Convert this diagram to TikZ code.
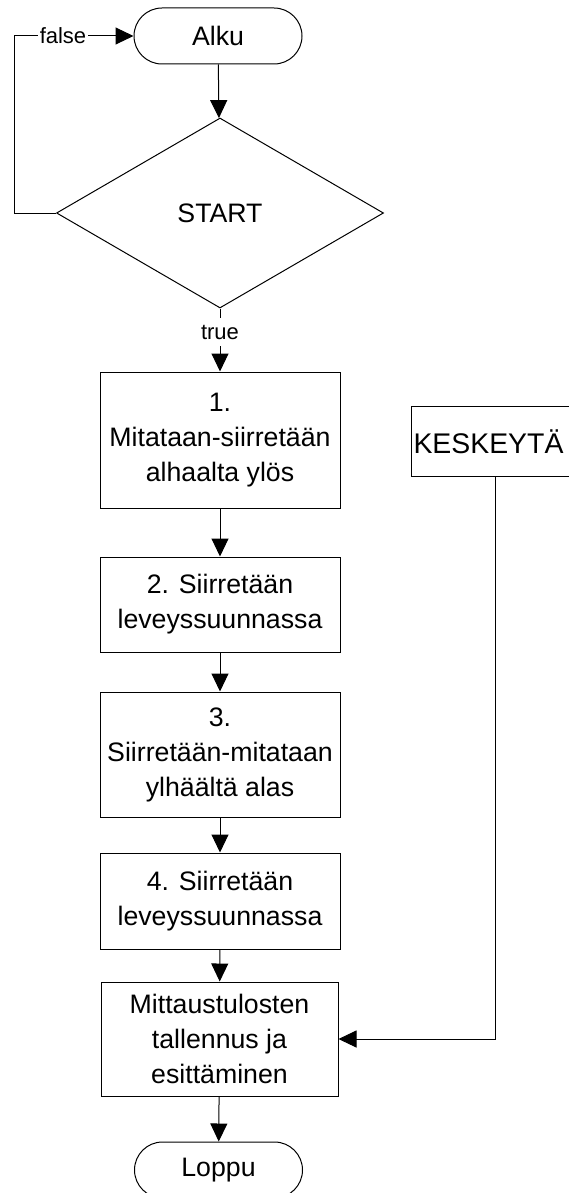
\documentclass[tikz,border=0pt]{standalone}
\usepackage{fontspec}
\setmainfont{Liberation Sans}
\usetikzlibrary{shapes.geometric,arrows.meta}
\tikzset{
  base/.style={draw=black, line width=1pt, font=\fontsize{26.7pt}{35pt}\selectfont, align=center, inner sep=0pt},
  terminal/.style={base, rectangle, rounded corners=28pt, minimum width=168pt, minimum height=56pt},
  procbox/.style={base, rectangle, minimum width=240pt},
  decision/.style={base, diamond, minimum width=327pt, minimum height=190pt},
  arr/.style={draw=black, line width=1pt, -{Triangle[length=18pt,width=17pt]}},
  lbl/.style={font=\fontsize{22pt}{26pt}\selectfont, fill=white, inner xsep=2pt, inner ysep=7pt},
  edgeline/.style={draw=black, line width=1pt}
}
\begin{document}
\begin{tikzpicture}[x=1pt,y=-1pt]
\useasboundingbox (0,0) rectangle (568,1193);
\fill[white] (0,0) rectangle (568,1193);
\node[terminal] (alku) at (218,36) {Alku};
\node[decision] (dia) at (220,213) {START};
\node[procbox, minimum height=136pt] (b1) at (220,440) {1.\\Mitataan-siirretään\\alhaalta ylös};
\node[procbox, minimum height=95pt] (b2) at (220,604.5) {2. Siirretään\\leveyssuunnassa};
\node[procbox, minimum height=125pt] (b3) at (220,754.5) {3.\\Siirretään-mitataan\\ylhäältä alas};
\node[procbox, minimum height=96pt] (b4) at (220,901) {4. Siirretään\\leveyssuunnassa};
\node[procbox, minimum width=237pt, minimum height=114pt] (b5) at (219.5,1039) {Mittaustulosten\\tallennus ja\\esittäminen};
\node[terminal] (loppu) at (218.5,1170) {Loppu};
\node[base, draw=none, rectangle, anchor=west, minimum width=157pt, minimum height=69pt, inner xsep=2pt, font=\fontsize{28.4pt}{35pt}\selectfont] (kes) at (411,441.5) {\makebox[153pt][l]{KESKEYTÄ}};
\draw[edgeline] (kes.north east) -- (kes.north west) -- (kes.south west) -- (kes.south east);
\coordinate (kx) at (495,0);

\draw[arr] (alku) -- (dia);
\draw[arr] (dia.west) -- ++(-42,0) |- (alku.west) node[lbl, pos=0.705] {false};
\draw[arr] (dia.south) -- (b1.north) node[lbl, pos=0.375] {true};
\draw[arr] (b1) -- (b2);
\draw[arr] (b2) -- (b3);
\draw[arr] (b3) -- (b4);
\draw[arr] (b4) -- (b5);
\draw[arr] (b5) -- (loppu);
\draw[arr] (kes.south -| kx) |- (b5.east);
\end{tikzpicture}
\end{document}
